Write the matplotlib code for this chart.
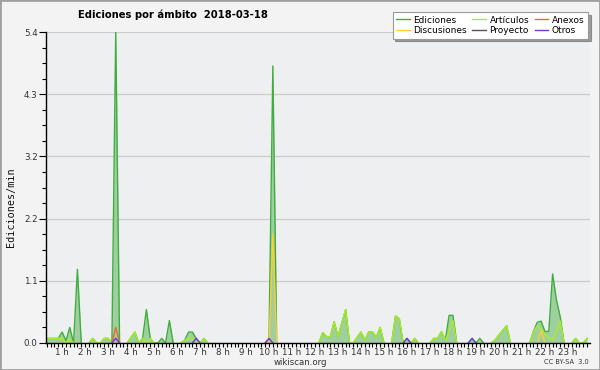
import numpy as np
import matplotlib
matplotlib.use("Agg")
import matplotlib.pyplot as plt
from matplotlib.patches import Rectangle

# 10-minute samples, index 0 = 00:00 (values in edits/min)
ediciones = [
    0.08, 0.08, 0.08, 0.08, 0.08, 0.08, 0.19, 0.04, 0.27, 0.00, 1.28, 0.00,   # 0-2h
    0.00, 0.00, 0.08, 0.00, 0.00, 0.08, 0.08, 0.00, 5.40, 0.00, 0.00, 0.00,   # 2-4h
    0.10, 0.19, 0.00, 0.08, 0.58, 0.08, 0.00, 0.00, 0.08, 0.00, 0.39, 0.00,   # 4-6h
    0.00, 0.00, 0.05, 0.19, 0.19, 0.08, 0.00, 0.08, 0.00, 0.00, 0.00, 0.00,   # 6-8h
    0.00, 0.00, 0.00, 0.00, 0.00, 0.00, 0.00, 0.00, 0.00, 0.00, 0.00, 0.00,   # 8-10h
    0.08, 4.81, 0.00, 0.00, 0.00, 0.00, 0.00, 0.00, 0.00, 0.00, 0.00, 0.00,   # 10-12h
    0.00, 0.00, 0.18, 0.11, 0.11, 0.37, 0.11, 0.35, 0.58, 0.00, 0.00, 0.10,   # 12-14h
    0.19, 0.05, 0.19, 0.19, 0.10, 0.27, 0.00, 0.00, 0.00, 0.47, 0.42, 0.00,   # 14-16h
    0.08, 0.00, 0.08, 0.00, 0.00, 0.00, 0.00, 0.08, 0.08, 0.20, 0.05, 0.48,   # 16-18h
    0.48, 0.00, 0.00, 0.00, 0.00, 0.08, 0.00, 0.08, 0.00, 0.00, 0.00, 0.05,   # 18-20h
    0.14, 0.22, 0.30, 0.00, 0.00, 0.00, 0.00, 0.00, 0.00, 0.20, 0.36, 0.38,   # 20-22h
    0.20, 0.20, 1.20, 0.75, 0.45, 0.00, 0.00, 0.00, 0.08, 0.00, 0.00, 0.08,   # 22-24h
]
articulos = [
    0.08, 0.08, 0.08, 0.08, 0.08, 0.08, 0.08, 0.00, 0.07, 0.00, 0.00, 0.00,
    0.00, 0.00, 0.08, 0.00, 0.00, 0.08, 0.08, 0.00, 0.00, 0.00, 0.00, 0.00,
    0.10, 0.19, 0.00, 0.08, 0.00, 0.08, 0.00, 0.00, 0.00, 0.00, 0.00, 0.00,
    0.00, 0.00, 0.05, 0.08, 0.08, 0.00, 0.00, 0.08, 0.00, 0.00, 0.00, 0.00,
    0.00, 0.00, 0.00, 0.00, 0.00, 0.00, 0.00, 0.00, 0.00, 0.00, 0.00, 0.00,
    0.00, 0.00, 0.00, 0.00, 0.00, 0.00, 0.00, 0.00, 0.00, 0.00, 0.00, 0.00,
    0.00, 0.00, 0.18, 0.11, 0.11, 0.37, 0.11, 0.35, 0.58, 0.00, 0.00, 0.10,
    0.19, 0.05, 0.19, 0.19, 0.10, 0.27, 0.00, 0.00, 0.00, 0.47, 0.42, 0.00,
    0.00, 0.00, 0.08, 0.00, 0.00, 0.00, 0.00, 0.08, 0.08, 0.20, 0.05, 0.20,
    0.39, 0.00, 0.00, 0.00, 0.00, 0.00, 0.00, 0.00, 0.00, 0.00, 0.00, 0.05,
    0.14, 0.22, 0.30, 0.00, 0.00, 0.00, 0.00, 0.00, 0.00, 0.20, 0.30, 0.25,
    0.15, 0.08, 0.05, 0.20, 0.38, 0.00, 0.00, 0.00, 0.08, 0.00, 0.00, 0.08,
]
# sparse series: sample index -> value
anexos_idx = [20]
anexos_val = [0.27]
discusiones_idx = [61, 131]
discusiones_val = [1.90, 0.21]
proyecto_idx = []
proyecto_val = []
otros_idx = [20, 41, 60, 96, 113]
otros_val = [0.08, 0.08, 0.08, 0.08, 0.08]

hour_labels = [f"{h} h" for h in range(1, 24)]
y_ticks = [0.0, 1.08, 2.16, 3.24, 4.32, 5.4]

n = len(ediciones)
hours = np.arange(n) / 6.0


def sparse(idx, val):
    arr = np.zeros(n)
    arr[idx] = val
    return arr


def hide_flat_zero(vals):
    # runs of zeros sit under the x axis in the original; don't draw them
    v = np.asarray(vals, dtype=float)
    nz = v > 0
    keep = nz.copy()
    keep[1:] |= nz[:-1]
    keep[:-1] |= nz[1:]
    return np.where(keep, v, np.nan)


anexos = sparse(anexos_idx, anexos_val)
discusiones = sparse(discusiones_idx, discusiones_val)
proyecto = sparse(proyecto_idx, proyecto_val)
otros = sparse(otros_idx, otros_val)

fig = plt.figure(figsize=(6, 3.7), dpi=100, facecolor="#f3f3f3")
ax = fig.add_axes([46 / 600, 27 / 370, 544 / 600, 311 / 370])
ax.set_facecolor("#eeeff0")

ax.fill_between(hours, ediciones, color="#9fcf9f", lw=0, zorder=2)
series = [
    ("Ediciones", ediciones, "#3fae3f", 3),
    ("Artículos", articulos, "#aaee22", 4),
    ("Anexos", anexos, "#ee6633", 4),
    ("Discusiones", discusiones, "#ffcc33", 4),
    ("Proyecto", proyecto, "#555555", 4),
    ("Otros", otros, "#7733dd", 4),
]
for name, vals, col, z in series:
    ax.plot(hours, hide_flat_zero(vals), color=col, lw=1.0, zorder=z, label=name)

ax.set_xlim(0.3, 23.96)
ax.set_ylim(0, 5.4)

ax.set_yticks(y_ticks)
ax.set_yticklabels([f"{v:.1f}" for v in y_ticks])
ax.set_yticks(np.arange(0, 5.41, 0.27), minor=True)
ax.set_xticks(np.arange(1, 24))
ax.set_xticklabels(hour_labels)
ax.set_xticks(np.arange(2, 144) / 6.0, minor=True)
ax.tick_params(axis="both", which="both", direction="out", width=0.8, colors="black",
               labelcolor="#333333", labelsize=6.3, pad=1.0)
ax.tick_params(axis="y", which="major", length=5)
ax.tick_params(axis="y", which="minor", length=3)
ax.tick_params(axis="x", which="major", length=3, pad=0.5)
ax.tick_params(axis="x", which="minor", length=3)
ax.grid(axis="y", which="major", color="#cccccc", lw=0.9, zorder=1)
ax.set_axisbelow(True)
for s in ("top", "right"):
    ax.spines[s].set_visible(False)
for s in ("left", "bottom"):
    ax.spines[s].set_linewidth(1.0)
    ax.spines[s].set_zorder(6)

fig.text(11.5 / 600, 1 - 207 / 370, "Ediciones/min", rotation=90, family="DejaVu Sans Mono",
         fontsize=7.3, ha="center", va="center", color="#111111")
fig.text(173 / 600, 1 - 15 / 370, "Ediciones por ámbito  2018-03-18", fontsize=7.2,
         fontweight="bold", ha="center", va="center")
fig.text(300 / 600, 1 - 362.5 / 370, "wikiscan.org", fontsize=6.2, ha="center", va="center",
         color="#333333")
fig.text(589 / 600, 1 - 362 / 370, "CC BY-SA  3.0", fontsize=4.8, ha="right", va="center",
         color="#333333")

handles, labels = ax.get_legend_handles_labels()
order = [0, 3, 1, 4, 2, 5]
leg = fig.legend([handles[i] for i in order], [labels[i] for i in order], ncol=3,
                 loc="upper right", bbox_to_anchor=(588 / 600, 1 - 12 / 370),
                 fontsize=6.5, frameon=True, fancybox=False, shadow=True,
                 handlelength=1.5, handletextpad=0.4, columnspacing=0.6,
                 labelspacing=0.15, borderpad=0.4, borderaxespad=0)
leg.get_frame().set_edgecolor("#999999")
leg.get_frame().set_linewidth(0.8)

fig.patches.append(Rectangle((0, 0), 1, 1, transform=fig.transFigure, fill=False,
                             edgecolor="#a0a0a0", lw=2))

fig.savefig("out.png", dpi=100, facecolor=fig.get_facecolor())
